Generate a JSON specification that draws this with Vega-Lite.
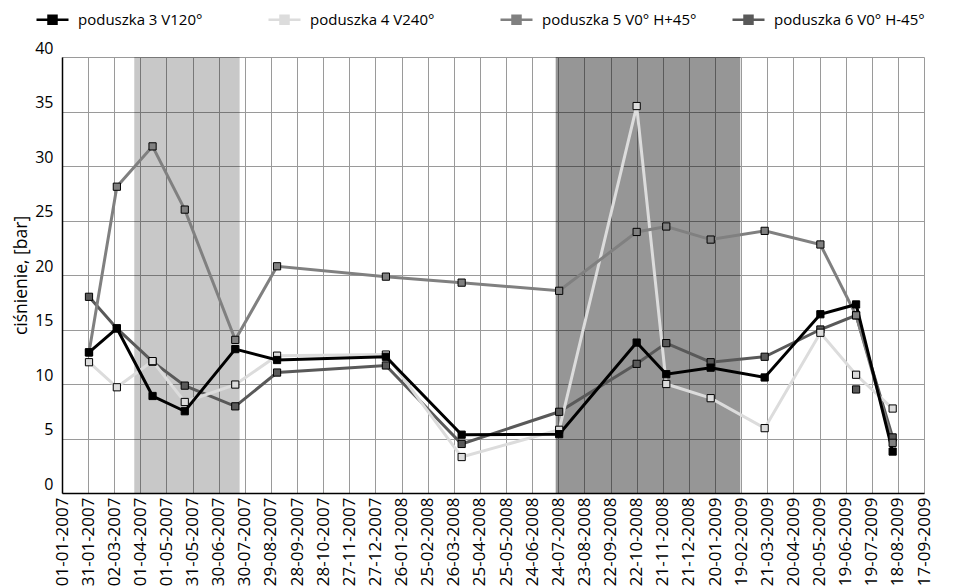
{
  "$schema": "https://vega.github.io/schema/vega-lite/v6.json",
  "width": 862,
  "height": 436,
  "autosize": {"type": "none"},
  "padding": {"left": 62, "top": 57, "right": 29, "bottom": 94},
  "background": "white",
  "config": {
    "view": {"stroke": null},
    "font": "Open Sans",
    "axis": {"labelFont": "Open Sans", "titleFont": "Open Sans", "labelColor": "black", "titleColor": "black"}
  },
  "datasets": {
    "pressure": [
      {"date": "2007-02-01", "series": "poduszka 6 V0° H-45°", "value": 18.0},
      {"date": "2007-03-05", "series": "poduszka 6 V0° H-45°", "value": 15.1},
      {"date": "2007-04-15", "series": "poduszka 6 V0° H-45°", "value": 12.05},
      {"date": "2007-05-22", "series": "poduszka 6 V0° H-45°", "value": 9.85},
      {"date": "2007-07-19", "series": "poduszka 6 V0° H-45°", "value": 7.95},
      {"date": "2007-09-05", "series": "poduszka 6 V0° H-45°", "value": 11.05},
      {"date": "2008-01-08", "series": "poduszka 6 V0° H-45°", "value": 11.7},
      {"date": "2008-04-04", "series": "poduszka 6 V0° H-45°", "value": 4.5},
      {"date": "2008-07-25", "series": "poduszka 6 V0° H-45°", "value": 7.45},
      {"date": "2008-10-22", "series": "poduszka 6 V0° H-45°", "value": 11.85},
      {"date": "2008-11-25", "series": "poduszka 6 V0° H-45°", "value": 13.75},
      {"date": "2009-01-15", "series": "poduszka 6 V0° H-45°", "value": 12.0},
      {"date": "2009-03-18", "series": "poduszka 6 V0° H-45°", "value": 12.5},
      {"date": "2009-05-21", "series": "poduszka 6 V0° H-45°", "value": 15.0},
      {"date": "2009-07-01", "series": "poduszka 6 V0° H-45°", "value": 16.3},
      {"date": "2009-08-12", "series": "poduszka 6 V0° H-45°", "value": 5.1},
      {"date": "2007-02-01", "series": "poduszka 4 V240°", "value": 12.0},
      {"date": "2007-03-05", "series": "poduszka 4 V240°", "value": 9.7},
      {"date": "2007-04-15", "series": "poduszka 4 V240°", "value": 12.1},
      {"date": "2007-05-22", "series": "poduszka 4 V240°", "value": 8.35},
      {"date": "2007-07-19", "series": "poduszka 4 V240°", "value": 9.95},
      {"date": "2007-09-05", "series": "poduszka 4 V240°", "value": 12.6},
      {"date": "2008-01-08", "series": "poduszka 4 V240°", "value": 12.7},
      {"date": "2008-04-04", "series": "poduszka 4 V240°", "value": 3.3},
      {"date": "2008-07-25", "series": "poduszka 4 V240°", "value": 5.8},
      {"date": "2008-10-22", "series": "poduszka 4 V240°", "value": 35.5},
      {"date": "2008-11-25", "series": "poduszka 4 V240°", "value": 10.0},
      {"date": "2009-01-15", "series": "poduszka 4 V240°", "value": 8.7},
      {"date": "2009-03-18", "series": "poduszka 4 V240°", "value": 5.95},
      {"date": "2009-05-21", "series": "poduszka 4 V240°", "value": 14.7},
      {"date": "2009-07-01", "series": "poduszka 4 V240°", "value": 10.85},
      {"date": "2009-08-12", "series": "poduszka 4 V240°", "value": 7.75},
      {"date": "2007-02-01", "series": "poduszka 5 V0° H+45°", "value": 12.9},
      {"date": "2007-03-05", "series": "poduszka 5 V0° H+45°", "value": 28.1},
      {"date": "2007-04-15", "series": "poduszka 5 V0° H+45°", "value": 31.8},
      {"date": "2007-05-22", "series": "poduszka 5 V0° H+45°", "value": 26.0},
      {"date": "2007-07-19", "series": "poduszka 5 V0° H+45°", "value": 14.05},
      {"date": "2007-09-05", "series": "poduszka 5 V0° H+45°", "value": 20.8},
      {"date": "2008-01-08", "series": "poduszka 5 V0° H+45°", "value": 19.85},
      {"date": "2008-04-04", "series": "poduszka 5 V0° H+45°", "value": 19.3},
      {"date": "2008-07-25", "series": "poduszka 5 V0° H+45°", "value": 18.55},
      {"date": "2008-10-22", "series": "poduszka 5 V0° H+45°", "value": 23.95},
      {"date": "2008-11-25", "series": "poduszka 5 V0° H+45°", "value": 24.45},
      {"date": "2009-01-15", "series": "poduszka 5 V0° H+45°", "value": 23.25},
      {"date": "2009-03-18", "series": "poduszka 5 V0° H+45°", "value": 24.05},
      {"date": "2009-05-21", "series": "poduszka 5 V0° H+45°", "value": 22.8},
      {"date": "2009-07-01", "series": "poduszka 5 V0° H+45°", "value": 16.3},
      {"date": "2009-08-12", "series": "poduszka 5 V0° H+45°", "value": 4.6},
      {"date": "2007-02-01", "series": "poduszka 3 V120°", "value": 12.9},
      {"date": "2007-03-05", "series": "poduszka 3 V120°", "value": 15.1},
      {"date": "2007-04-15", "series": "poduszka 3 V120°", "value": 8.9},
      {"date": "2007-05-22", "series": "poduszka 3 V120°", "value": 7.5},
      {"date": "2007-07-19", "series": "poduszka 3 V120°", "value": 13.2},
      {"date": "2007-09-05", "series": "poduszka 3 V120°", "value": 12.2},
      {"date": "2008-01-08", "series": "poduszka 3 V120°", "value": 12.5},
      {"date": "2008-04-04", "series": "poduszka 3 V120°", "value": 5.35},
      {"date": "2008-07-25", "series": "poduszka 3 V120°", "value": 5.4},
      {"date": "2008-10-22", "series": "poduszka 3 V120°", "value": 13.8},
      {"date": "2008-11-25", "series": "poduszka 3 V120°", "value": 10.9},
      {"date": "2009-01-15", "series": "poduszka 3 V120°", "value": 11.5},
      {"date": "2009-03-18", "series": "poduszka 3 V120°", "value": 10.6},
      {"date": "2009-05-21", "series": "poduszka 3 V120°", "value": 16.4},
      {"date": "2009-07-01", "series": "poduszka 3 V120°", "value": 17.3},
      {"date": "2009-08-12", "series": "poduszka 3 V120°", "value": 3.8}
    ],
    "isolated": [
      {"date": "2009-07-01", "series": "poduszka 6 V0° H-45°", "value": 9.5}
    ],
    "periods": [
      {"start": "2007-03-25", "end": "2007-07-24", "shade": "light"},
      {"start": "2008-07-21", "end": "2009-02-18", "shade": "dark"}
    ]
  },
  "layer": [
    {
      "data": {"name": "periods"},
      "transform": [{"filter": "datum.shade === 'light'"}],
      "mark": {"type": "rect", "color": "#000000", "opacity": 0.215},
      "encoding": {
        "x": {"field": "start", "type": "temporal"},
        "x2": {"field": "end"}
      }
    },
    {
      "data": {"name": "periods"},
      "transform": [{"filter": "datum.shade === 'dark'"}],
      "mark": {"type": "rect", "color": "#000000", "opacity": 0.41},
      "encoding": {
        "x": {"field": "start", "type": "temporal"},
        "x2": {"field": "end"}
      }
    },
    {
      "data": {"name": "pressure"},
      "mark": {"type": "line", "strokeWidth": 3},
      "encoding": {
        "x": {"field": "date", "type": "temporal"},
        "y": {"field": "value", "type": "quantitative"},
        "color": {"field": "series", "type": "nominal"}
      }
    },
    {
      "data": {"name": "pressure"},
      "mark": {"type": "point", "shape": "square", "filled": true, "size": 52, "stroke": "black", "strokeWidth": 1, "opacity": 1},
      "encoding": {
        "x": {"field": "date", "type": "temporal"},
        "y": {"field": "value", "type": "quantitative"},
        "color": {"field": "series", "type": "nominal"}
      }
    },
    {
      "data": {"name": "isolated"},
      "mark": {"type": "point", "shape": "square", "filled": true, "size": 52, "stroke": "black", "strokeWidth": 1, "opacity": 1},
      "encoding": {
        "x": {"field": "date", "type": "temporal"},
        "y": {"field": "value", "type": "quantitative"},
        "color": {"field": "series", "type": "nominal"}
      }
    },
    {
      "data": {"name": "pressure"},
      "mark": {"type": "point", "opacity": 0},
      "encoding": {
        "x": {
          "field": "date",
          "type": "temporal",
          "scale": {"type": "utc", "domain": [{"year": 2007, "month": 1, "date": 1, "utc": true}, {"year": 2009, "month": 9, "date": 17, "utc": true}], "nice": false},
          "axis": {
            "title": null,
            "labelExpr": "utcFormat(datum.value, '%d-%m-%Y')",
            "labelAngle": -90,
            "labelFontSize": 17,
            "labelPadding": 4,
            "labelOverlap": false,
            "labelBound": false,
            "labelFlush": false,
            "tickCount": 60,
            "ticks": false,
            "grid": true,
            "gridColor": "#9a9a9a",
            "gridWidth": 1,
            "gridOpacity": 1,
            "domainColor": "black",
            "domainWidth": 1.5,
            "values": [
              {"year": 2007, "month": 1, "date": 1, "utc": true},
              {"year": 2007, "month": 1, "date": 31, "utc": true},
              {"year": 2007, "month": 3, "date": 2, "utc": true},
              {"year": 2007, "month": 4, "date": 1, "utc": true},
              {"year": 2007, "month": 5, "date": 1, "utc": true},
              {"year": 2007, "month": 5, "date": 31, "utc": true},
              {"year": 2007, "month": 6, "date": 30, "utc": true},
              {"year": 2007, "month": 7, "date": 30, "utc": true},
              {"year": 2007, "month": 8, "date": 29, "utc": true},
              {"year": 2007, "month": 9, "date": 28, "utc": true},
              {"year": 2007, "month": 10, "date": 28, "utc": true},
              {"year": 2007, "month": 11, "date": 27, "utc": true},
              {"year": 2007, "month": 12, "date": 27, "utc": true},
              {"year": 2008, "month": 1, "date": 26, "utc": true},
              {"year": 2008, "month": 2, "date": 25, "utc": true},
              {"year": 2008, "month": 3, "date": 26, "utc": true},
              {"year": 2008, "month": 4, "date": 25, "utc": true},
              {"year": 2008, "month": 5, "date": 25, "utc": true},
              {"year": 2008, "month": 6, "date": 24, "utc": true},
              {"year": 2008, "month": 7, "date": 24, "utc": true},
              {"year": 2008, "month": 8, "date": 23, "utc": true},
              {"year": 2008, "month": 9, "date": 22, "utc": true},
              {"year": 2008, "month": 10, "date": 22, "utc": true},
              {"year": 2008, "month": 11, "date": 21, "utc": true},
              {"year": 2008, "month": 12, "date": 21, "utc": true},
              {"year": 2009, "month": 1, "date": 20, "utc": true},
              {"year": 2009, "month": 2, "date": 19, "utc": true},
              {"year": 2009, "month": 3, "date": 21, "utc": true},
              {"year": 2009, "month": 4, "date": 20, "utc": true},
              {"year": 2009, "month": 5, "date": 20, "utc": true},
              {"year": 2009, "month": 6, "date": 19, "utc": true},
              {"year": 2009, "month": 7, "date": 19, "utc": true},
              {"year": 2009, "month": 8, "date": 18, "utc": true},
              {"year": 2009, "month": 9, "date": 17, "utc": true}
            ]
          }
        },
        "y": {
          "field": "value",
          "type": "quantitative",
          "scale": {"domain": [0, 40], "nice": false, "zero": true},
          "axis": {
            "title": "ciśnienie, [bar]",
            "titleFontSize": 17.5,
            "titleFontWeight": "normal",
            "titlePadding": 4,
            "values": [0, 5, 10, 15, 20, 25, 30, 35, 40],
            "labelFontSize": 16,
            "labelBaseline": "bottom",
            "labelOffset": -1,
            "labelPadding": 9,
            "ticks": false,
            "grid": true,
            "gridColor": "#9a9a9a",
            "gridWidth": 1,
            "gridOpacity": 1,
            "domainColor": "black",
            "domainWidth": 1.5
          }
        },
        "color": {
          "field": "series",
          "type": "nominal",
          "scale": {
            "domain": ["poduszka 3 V120°", "poduszka 4 V240°", "poduszka 5 V0° H+45°", "poduszka 6 V0° H-45°"],
            "range": ["#000000", "#dcdcdc", "#808080", "#595959"]
          },
          "legend": {
            "title": null,
            "orient": "none",
            "legendX": -27,
            "legendY": -55,
            "direction": "horizontal",
            "columns": 4,
            "gridAlign": "all",
            "columnPadding": 30,
            "padding": 0,
            "symbolType": "M-1,0L-0.25,0M0.25,0L1,0M-0.25,-0.25L0.25,-0.25L0.25,0.25L-0.25,0.25Z",
            "symbolSize": 1024,
            "symbolStrokeWidth": 2.5,
            "labelFont": "Open Sans",
            "labelFontSize": 15,
            "labelColor": "black",
            "labelOffset": 8,
            "labelLimit": 300,
            "encode": {
              "symbols": {
                "update": {
                  "fill": {"scale": "color", "field": "value"},
                  "stroke": {"scale": "color", "field": "value"},
                  "opacity": {"value": 1},
                  "strokeWidth": {"value": 2.5}
                }
              }
            }
          }
        }
      }
    }
  ]
}
